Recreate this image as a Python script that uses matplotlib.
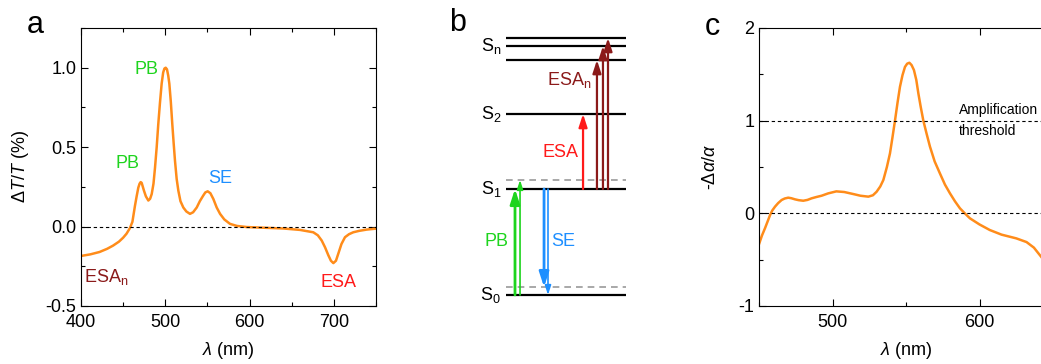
import matplotlib
matplotlib.use("Agg")
import matplotlib.pyplot as plt
from matplotlib.ticker import MultipleLocator, FormatStrFormatter

plt.rcParams["font.family"] = ["Liberation Sans", "DejaVu Sans"]
plt.rcParams["mathtext.fontset"] = "custom"
plt.rcParams["mathtext.rm"] = "Liberation Sans"
plt.rcParams["mathtext.it"] = "Liberation Sans:italic"
plt.rcParams["axes.unicode_minus"] = False

ORANGE = "#ff8c1a"
GREEN = "#1ed41e"
BLUE = "#1e8fff"
RED = "#ff1a1a"
DARKRED = "#8b1a1a"
FS = 13

# (a) transient transmission spectrum
wl_a = [400, 411, 422, 431, 438, 445, 450, 454, 458, 461, 464, 466, 468, 469.5,
        470.8, 472, 474.7, 477, 479.9, 482, 483.9, 486, 487.8, 489.8, 491.7,
        493.7, 495.7, 497.5, 499, 500.5, 502, 503.5, 504.8, 506.5, 508.3, 510,
        511.5, 513.5, 515.5, 518, 521.4, 525, 529.3, 533, 537.3, 541, 545,
        547.5, 550.3, 553.5, 557, 561, 565, 570, 576.8, 585, 596.6, 620, 640,
        659.8, 675.6, 681, 685.6, 689.5, 693.4, 696.5, 699.4, 702.5, 705.3,
        709, 713.2, 718, 723, 730, 739, 750]
dtt = [-0.185, -0.175, -0.16, -0.14, -0.12, -0.095, -0.07, -0.045, -0.01, 0.03,
       0.13, 0.19, 0.245, 0.27, 0.28, 0.275, 0.226, 0.19, 0.164, 0.175, 0.205,
       0.27, 0.37, 0.5, 0.646, 0.78, 0.9, 0.97, 0.995, 1.0, 0.99, 0.95, 0.9,
       0.79, 0.646, 0.52, 0.415, 0.3, 0.226, 0.16, 0.12, 0.095, 0.08, 0.09,
       0.12, 0.16, 0.195, 0.215, 0.222, 0.21, 0.174, 0.12, 0.08, 0.045, 0.017,
       0.004, -0.003, -0.008, -0.012, -0.021, -0.036, -0.055, -0.088, -0.13,
       -0.18, -0.215, -0.23, -0.215, -0.17, -0.11, -0.067, -0.048, -0.036,
       -0.027, -0.019, -0.013]

# (c) gain spectrum
wl_c = [450.2, 452, 454.1, 455.8, 457.5, 459, 460.9, 463, 465.4, 467.5, 469.9,
        472, 474.5, 477, 480.1, 483, 485.8, 489, 492.6, 497, 502.6, 508, 514.2,
        519, 524.4, 527.5, 530, 532.5, 534.6, 537, 539.1, 540.8, 542.5, 544.2,
        545.9, 547.6, 549.3, 550.8, 552.3, 553.8, 555.4, 557, 558.4, 560,
        561.8, 564, 566.3, 569.5, 573.1, 576.5, 579.9, 583.3, 586.7, 590,
        593.5, 600, 607, 615, 625, 632, 637, 641, 645]
gain = [-0.324, -0.24, -0.16, -0.09, -0.02, 0.03, 0.072, 0.11, 0.144, 0.16,
        0.169, 0.163, 0.151, 0.142, 0.136, 0.145, 0.162, 0.176, 0.19, 0.215,
        0.237, 0.23, 0.208, 0.19, 0.18, 0.195, 0.233, 0.29, 0.36, 0.5, 0.647,
        0.82, 1.0, 1.19, 1.366, 1.49, 1.58, 1.615, 1.625, 1.6, 1.546, 1.44,
        1.295, 1.15, 1.0, 0.86, 0.72, 0.56, 0.43, 0.31, 0.216, 0.13, 0.054,
        0.0, -0.054, -0.12, -0.18, -0.23, -0.27, -0.31, -0.37, -0.45, -0.53]
threshold = 1.0

# (b) energy levels (arbitrary units)
levels = [0.0, 1.0, 1.708, 2.217, 2.349, 2.425]
level_labels = ["S$_\\mathrm{0}$", "S$_\\mathrm{1}$", "S$_\\mathrm{2}$", "S$_\\mathrm{n}$"]
label_levels = [0.0, 1.0, 1.708, 2.349]
vib_levels = [0.075, 1.085]


def style_axes(ax):
    ax.tick_params(which="both", direction="in", top=True, right=True,
                   labelsize=FS, width=0.8)
    ax.tick_params(which="major", length=5)
    ax.tick_params(which="minor", length=3)
    ax.tick_params(axis="x", which="both", pad=6)
    for s in ax.spines.values():
        s.set_linewidth(0.8)


fig = plt.figure(figsize=(10.41, 3.64), dpi=100)

# ---- panel a
ax_a = fig.add_axes([81 / 1041, 58 / 364, 295 / 1041, 278 / 364])
ax_a.plot(wl_a, dtt, color=ORANGE, lw=1.8)
ax_a.axhline(0, color="black", lw=0.8, ls=(0, (3, 2.5)))
ax_a.set_xlim(400, 750)
ax_a.set_ylim(-0.5, 1.25)
ax_a.xaxis.set_major_locator(MultipleLocator(100))
ax_a.xaxis.set_minor_locator(MultipleLocator(50))
ax_a.yaxis.set_major_locator(MultipleLocator(0.5))
ax_a.yaxis.set_minor_locator(MultipleLocator(0.25))
ax_a.yaxis.set_major_formatter(FormatStrFormatter("%.1f"))
style_axes(ax_a)
ax_a.set_xlabel("$\\lambda$ (nm)", fontsize=FS, labelpad=6)
ax_a.set_ylabel("$\\Delta$$T$/$T$ (%)", fontsize=FS, labelpad=10)
ax_a.text(478, 0.99, "PB", color=GREEN, fontsize=FS, ha="center", va="center")
ax_a.text(455, 0.40, "PB", color=GREEN, fontsize=FS, ha="center", va="center")
ax_a.text(565, 0.30, "SE", color=BLUE, fontsize=FS, ha="center", va="center")
ax_a.text(430, -0.32, "ESA$_\\mathrm{n}$", color=DARKRED, fontsize=FS,
          ha="center", va="center")
ax_a.text(705, -0.35, "ESA", color=RED, fontsize=FS, ha="center", va="center")
fig.text(35 / 1041, 1 - 25 / 364, "a", fontsize=22, ha="center", va="center")

# ---- panel b
ax_b = fig.add_axes([470 / 1041, 58 / 364, 180 / 1041, 278 / 364])
ax_b.set_xlim(-0.3, 1.2)
ax_b.set_ylim(-0.104, 2.519)
ax_b.axis("off")
for e in levels:
    ax_b.plot([0, 1], [e, e], color="black", lw=1.6, solid_capstyle="butt")
for e in vib_levels:
    ax_b.plot([0, 1], [e, e], color="#999999", lw=1.2, ls=(0, (4, 3)))
for lab, e in zip(level_labels, label_levels):
    ax_b.text(-0.04, e, lab, fontsize=FS, ha="right", va="center")


def arrow(x, y0, y1, color, lw, ms):
    ax_b.annotate("", xy=(x, y1), xytext=(x, y0),
                  arrowprops=dict(arrowstyle="-|>,head_length=0.55,head_width=0.18",
                                  color=color, lw=lw, shrinkA=0, shrinkB=0,
                                  mutation_scale=ms))


arrow(0.075, levels[0], levels[1], GREEN, 2.0, 16)
arrow(0.117, levels[0], vib_levels[1], GREEN, 1.2, 10)
arrow(0.317, levels[1], vib_levels[0], BLUE, 2.0, 16)
arrow(0.35, levels[1], levels[0], BLUE, 1.2, 10)
arrow(0.642, levels[1], levels[2], RED, 1.6, 14)
for x, e in zip([0.758, 0.808, 0.85], levels[3:]):
    arrow(x, levels[1], e, DARKRED, 1.6, 14)
ax_b.text(-0.08, 0.5, "PB", color=GREEN, fontsize=FS, ha="center", va="center")
ax_b.text(0.48, 0.5, "SE", color=BLUE, fontsize=FS, ha="center", va="center")
ax_b.text(0.45, 1.34, "ESA", color=RED, fontsize=FS, ha="center", va="center")
ax_b.text(0.53, 2.03, "ESA$_\\mathrm{n}$", color=DARKRED, fontsize=FS,
          ha="center", va="center")
fig.text(458 / 1041, 1 - 23 / 364, "b", fontsize=22, ha="center", va="center")

# ---- panel c
ax_c = fig.add_axes([759 / 1041, 58 / 364, 294 / 1041, 278 / 364])
ax_c.plot(wl_c, gain, color=ORANGE, lw=1.8)
ax_c.axhline(0, color="black", lw=0.8, ls=(0, (3, 2.5)))
ax_c.axhline(threshold, color="black", lw=0.8, ls=(0, (3, 2.5)))
ax_c.set_xlim(450, 650)
ax_c.set_ylim(-1, 2)
ax_c.xaxis.set_major_locator(MultipleLocator(100))
ax_c.xaxis.set_minor_locator(MultipleLocator(50))
ax_c.yaxis.set_major_locator(MultipleLocator(1))
ax_c.yaxis.set_minor_locator(MultipleLocator(0.5))
style_axes(ax_c)
ax_c.set_xlabel("$\\lambda$ (nm)", fontsize=FS, labelpad=6)
ax_c.set_ylabel("-$\\Delta\\alpha$/$\\alpha$", fontsize=FS, labelpad=14)
ax_c.text(586, threshold + 0.04, "Amplification", fontsize=10,
          ha="left", va="bottom")
ax_c.text(586, threshold - 0.04, "threshold", fontsize=10,
          ha="left", va="top")
fig.text(712 / 1041, 1 - 27 / 364, "c", fontsize=22, ha="center", va="center")

fig.savefig("out.png", dpi=100)
